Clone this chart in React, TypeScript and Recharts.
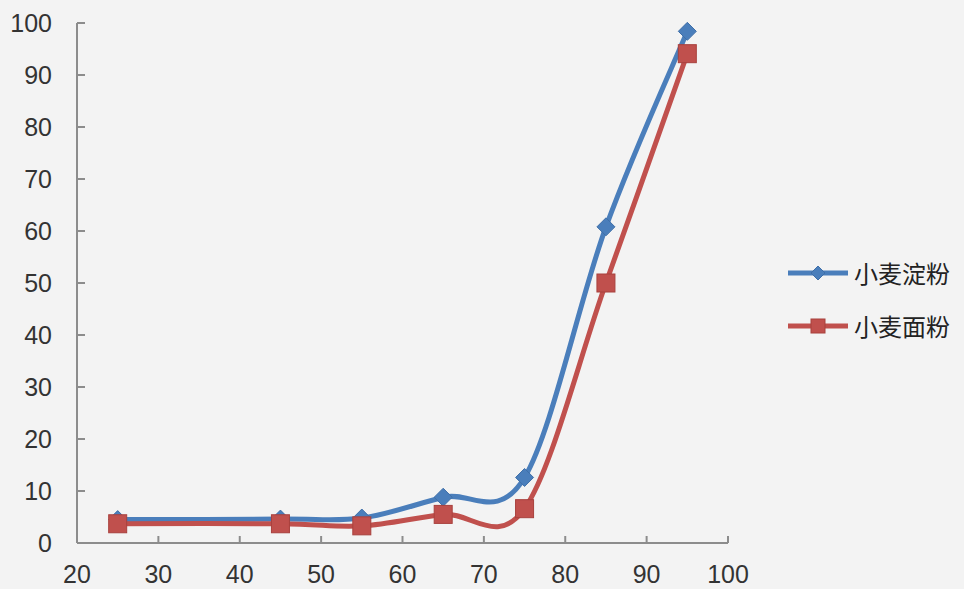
import { LineChart, Line, XAxis, YAxis, Legend } from "recharts";

const temps = [25, 45, 55, 65, 75, 85, 95];
const starch = [4.5, 4.6, 4.8, 8.8, 12.6, 60.8, 98.4];
const flour = [3.7, 3.7, 3.3, 5.5, 6.6, 50, 94.1];
const xTicks = [20, 30, 40, 50, 60, 70, 80, 90, 100];
const yTicks = [0, 10, 20, 30, 40, 50, 60, 70, 80, 90, 100];
const names = ["小麦淀粉", "小麦面粉"];

const BLUE = "#4a7ebb";
const RED = "#c0504d";
const AXIS = "#8c8c8c";
const FONT = "'Liberation Sans', Arial, sans-serif";
const CJK = "'Noto Sans CJK SC', sans-serif";

const data = temps.map((t, i) => ({ t, starch: starch[i], flour: flour[i] }));

// excel-style smoothing (catmull-rom through the points)
const smooth = (context: any) => {
  let pts: number[][] = [];
  return {
    areaStart() {},
    areaEnd() {},
    lineStart() {
      pts = [];
    },
    point(x: number, y: number) {
      pts.push([+x, +y]);
    },
    lineEnd() {
      const n = pts.length;
      if (!n) return;
      context.moveTo(pts[0][0], pts[0][1]);
      for (let i = 0; i < n - 1; i++) {
        const p0 = pts[Math.max(i - 1, 0)];
        const p1 = pts[i];
        const p2 = pts[i + 1];
        const p3 = pts[Math.min(i + 2, n - 1)];
        context.bezierCurveTo(
          p1[0] + (p2[0] - p0[0]) / 6,
          p1[1] + (p2[1] - p0[1]) / 6,
          p2[0] - (p3[0] - p1[0]) / 6,
          p2[1] - (p3[1] - p1[1]) / 6,
          p2[0],
          p2[1]
        );
      }
    },
  };
};

const Diamond = ({ cx, cy, r = 9 }: any) => (
  <path
    d={`M${cx},${cy - r}L${cx + r},${cy}L${cx},${cy + r}L${cx - r},${cy}Z`}
    fill={BLUE}
    stroke="#3f6fa8"
    strokeWidth={1}
  />
);

const Square = ({ cx, cy, s = 18 }: any) => (
  <rect
    x={cx - s / 2}
    y={cy - s / 2}
    width={s}
    height={s}
    fill={RED}
    stroke="#a8403d"
    strokeWidth={1}
  />
);

const LegendBox = () => (
  <div style={{ fontFamily: CJK, fontSize: 24, color: "#222" }}>
    {names.map((name, i) => (
      <div key={name} style={{ display: "flex", alignItems: "center", height: 53 }}>
        <svg width={66} height={24}>
          <line x1={0} y1={12} x2={60} y2={12} stroke={i ? RED : BLUE} strokeWidth={5} />
          {i ? <Square cx={30} cy={12} s={14} /> : <Diamond cx={30} cy={12} r={7} />}
        </svg>
        <span>{name}</span>
      </div>
    ))}
  </div>
);

export default function App() {
  return (
    <div
      style={{
        position: "absolute",
        left: 0,
        top: 0,
        width: 964,
        height: 589,
        background: "#f3f3f3",
      }}
    >
      <LineChart
        width={964}
        height={589}
        data={data}
        margin={{ top: 23, right: 236, bottom: 0, left: 0 }}
      >
        <XAxis
          dataKey="t"
          type="number"
          domain={[20, 100]}
          ticks={xTicks}
          height={46}
          stroke={AXIS}
          strokeWidth={2}
          tickSize={-7}
          tickMargin={29}
          tick={{ fill: "#333", fontSize: 25, fontFamily: FONT }}
        />
        <YAxis
          type="number"
          domain={[0, 100]}
          ticks={yTicks}
          width={77}
          stroke={AXIS}
          strokeWidth={2}
          tickSize={-8}
          tickMargin={33}
          tick={{ fill: "#333", fontSize: 25, fontFamily: FONT }}
        />
        <Legend
          layout="horizontal"
          align="center"
          verticalAlign="middle"
          content={<LegendBox />}
          wrapperStyle={{ position: "absolute", left: 788, top: 246, width: 176 }}
        />
        <Line
          dataKey="starch"
          name={names[0]}
          type={smooth as any}
          stroke={BLUE}
          strokeWidth={5}
          dot={(p: any) => <Diamond key={p.index} cx={p.cx} cy={p.cy} />}
          isAnimationActive={false}
        />
        <Line
          dataKey="flour"
          name={names[1]}
          type={smooth as any}
          stroke={RED}
          strokeWidth={5}
          dot={(p: any) => <Square key={p.index} cx={p.cx} cy={p.cy} />}
          isAnimationActive={false}
        />
      </LineChart>
    </div>
  );
}
